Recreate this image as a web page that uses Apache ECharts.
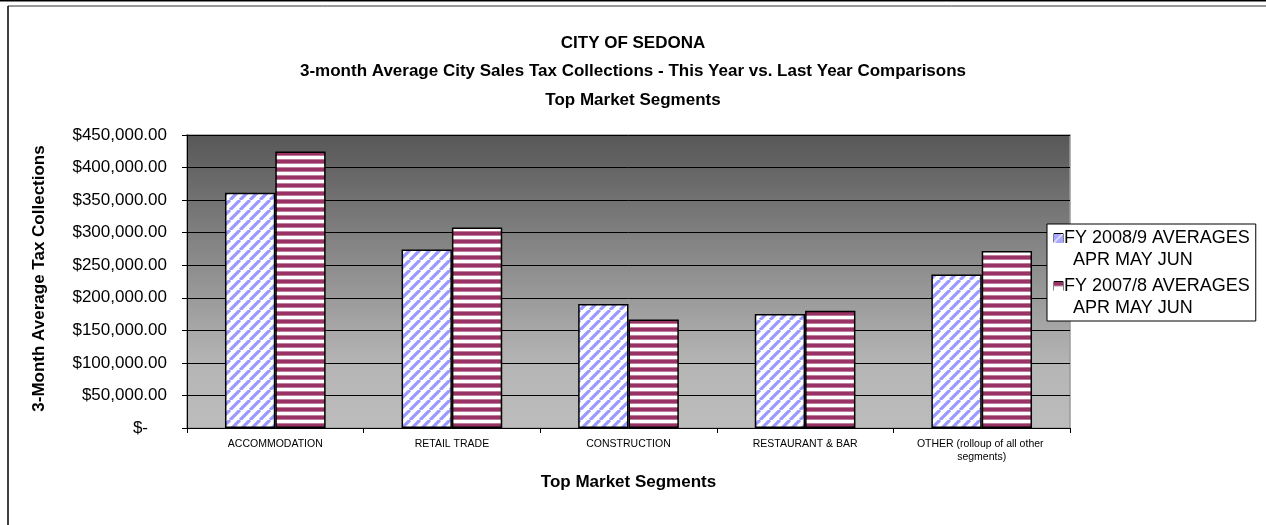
<!DOCTYPE html>
<html><head><meta charset="utf-8">
<script src="https://cdn.jsdelivr.net/npm/echarts@6/dist/echarts.min.js"></script>
<style>html,body{margin:0;padding:0;background:#fff}#c{width:1266px;height:525px}</style>
</head><body><div id="c"></div>
<script>
const titleLines = ['CITY OF SEDONA', '3-month Average City Sales Tax Collections - This Year vs. Last Year Comparisons', 'Top Market Segments'];
const categories = ['ACCOMMODATION', 'RETAIL TRADE', 'CONSTRUCTION', 'RESTAURANT & BAR', 'OTHER (rolloup of all other segments)'];
const legendMain = ['FY 2008/9 AVERAGES', 'FY 2007/8 AVERAGES'];
const legendSub = ['APR MAY JUN', 'APR MAY JUN'];
const seriesNames = [legendMain[0] + ' ' + legendSub[0], legendMain[1] + ' ' + legendSub[1]];
const fy2009 = [361300, 274300, 190400, 175000, 235900];
const fy2008 = [424800, 308100, 166800, 180100, 271700];
const yMin = 0, yMax = 450000, yStep = 50000;
const yName = '3-Month Average Tax Collections';
const xName = 'Top Market Segments';

const FONT = "'Liberation Sans', Arial, sans-serif";

function tile(w, h, draw) {
  const c = document.createElement('canvas'); c.width = w; c.height = h;
  draw(c.getContext('2d'), w, h); return c;
}
const blueTile = tile(10, 10, (g, w, h) => {
  g.fillStyle = '#fff'; g.fillRect(0, 0, w, h);
  g.strokeStyle = '#9999ff'; g.lineWidth = 3.2; g.beginPath();
  [-10, 0, 10].forEach(x0 => { g.moveTo(x0, 10); g.lineTo(x0 + 10, 0); });
  g.stroke();
});
const redTile = tile(8, 8, (g, w, h) => {
  g.fillStyle = '#fff'; g.fillRect(0, 0, w, h);
  g.fillStyle = '#993366'; g.fillRect(0, 0, w, 3);
  g.fillStyle = '#c07a9a'; g.fillRect(0, 3, w, 1); g.fillRect(0, 7, w, 1);
});
const blueIcon = tile(9, 9, (g, w, h) => {
  g.fillStyle = '#a8a8ff'; g.fillRect(0, 0, w, h);
  g.strokeStyle = '#e8e8ff'; g.lineWidth = 1.5; g.beginPath(); g.moveTo(0, 9); g.lineTo(9, 0); g.stroke();
});
const redIcon = tile(9, 9, (g, w, h) => {
  g.fillStyle = '#fff'; g.fillRect(0, 0, w, h);
  g.fillStyle = '#993366'; g.fillRect(0, 0, w, 4);
  g.fillStyle = '#c890aa'; g.fillRect(0, 4, w, 1);
});

function money(v) {
  if (v === 0) return '{z|$-}';
  return '$' + v.toLocaleString('en-US', { minimumFractionDigits: 2, maximumFractionDigits: 2 });
}

const chart = echarts.init(document.getElementById('c'), null, { renderer: 'canvas' });
chart.setOption({
  animation: false,
  backgroundColor: '#fff',
  title: {
    text: titleLines.join('\n'),
    left: 'center', top: 24,
    textStyle: { fontFamily: FONT, fontSize: 17, fontWeight: 'bold', color: '#000', lineHeight: 28.5 }
  },
  graphic: [
    { type: 'rect', shape: { x: 0, y: 0, width: 1266, height: 1.5 }, style: { fill: '#000' }, silent: true },
    { type: 'line', shape: { x1: 8, y1: 6, x2: 1266, y2: 6 }, style: { stroke: '#333', lineWidth: 1 }, silent: true },
    { type: 'line', shape: { x1: 8, y1: 6, x2: 8, y2: 525 }, style: { stroke: '#000', lineWidth: 1.5 }, silent: true }
  ],
  legend: {
    orient: 'vertical', left: 1047, top: 224,
    icon: 'none', itemWidth: 0, itemHeight: 10, itemGap: 4,
    padding: [3, 6, 2, 2],
    backgroundColor: '#fff', borderColor: '#000', borderWidth: 1,
    selectedMode: false,
    data: seriesNames,
    formatter: name => {
      const i = seriesNames.indexOf(name);
      return '{ic' + i + '|}{g|}{t|' + legendMain[i] + '}\n{ind|}{t|' + legendSub[i] + '}';
    },
    textStyle: {
      fontFamily: FONT, fontSize: 18, color: '#000', lineHeight: 22,
      rich: {
        t: { fontFamily: FONT, fontSize: 18, color: '#000', lineHeight: 22 },
        g: { width: 1 },
        ind: { width: 19 },
        ic0: { width: 9, height: 9, borderColor: '#000', borderWidth: 1, backgroundColor: { image: blueIcon } },
        ic1: { width: 9, height: 9, borderColor: '#000', borderWidth: 1, backgroundColor: { image: redIcon } }
      }
    }
  },
  grid: {
    left: 187, right: 196, top: 135, bottom: 97,
    show: true,
    borderColor: '#9a9a9a', borderWidth: 1.5,
    backgroundColor: new echarts.graphic.LinearGradient(0, 0, 0, 1, [
      { offset: 0, color: '#575757' },
      { offset: 0.78, color: '#b5b5b5' },
      { offset: 1, color: '#bcbcbc' }
    ])
  },
  xAxis: {
    type: 'category', data: categories,
    name: xName, nameLocation: 'middle', nameGap: 46,
    nameTextStyle: { fontFamily: FONT, fontSize: 17, fontWeight: 'bold', color: '#000' },
    axisLine: { lineStyle: { color: '#000', width: 1 } },
    axisTick: { show: true, length: 5, lineStyle: { color: '#000' } },
    axisLabel: {
      interval: 0, margin: 10, color: '#000', fontFamily: FONT, fontSize: 10.5,
      lineHeight: 13, width: 155, overflow: 'break'
    }
  },
  yAxis: {
    type: 'value', min: yMin, max: yMax, interval: yStep,
    name: yName, nameLocation: 'middle', nameGap: 139, nameRotate: 90,
    nameTextStyle: { fontFamily: FONT, fontSize: 17, fontWeight: 'bold', color: '#000', padding: [0, 0, 0, 6] },
    axisLine: { show: true, lineStyle: { color: '#000', width: 1 } },
    axisTick: { show: true, length: 5, lineStyle: { color: '#000' } },
    splitLine: { show: true, lineStyle: { color: '#000', width: 1 } },
    axisLabel: {
      formatter: money, margin: 20, color: '#000', fontFamily: FONT, fontSize: 17,
      rich: { z: { fontFamily: FONT, fontSize: 17, color: '#000', padding: [0, 19, 0, 0] } }
    }
  },
  series: [
    {
      name: seriesNames[0], type: 'bar', data: fy2009,
      barGap: '0%', barCategoryGap: '43%',
      itemStyle: { color: { image: blueTile, repeat: 'repeat' }, borderColor: '#000', borderWidth: 1.5 },
      emphasis: { disabled: true }
    },
    {
      name: seriesNames[1], type: 'bar', data: fy2008,
      barGap: '0%', barCategoryGap: '43%',
      itemStyle: { color: { image: redTile, repeat: 'repeat' }, borderColor: '#000', borderWidth: 1.5 },
      emphasis: { disabled: true }
    }
  ]
});
</script></body></html>
